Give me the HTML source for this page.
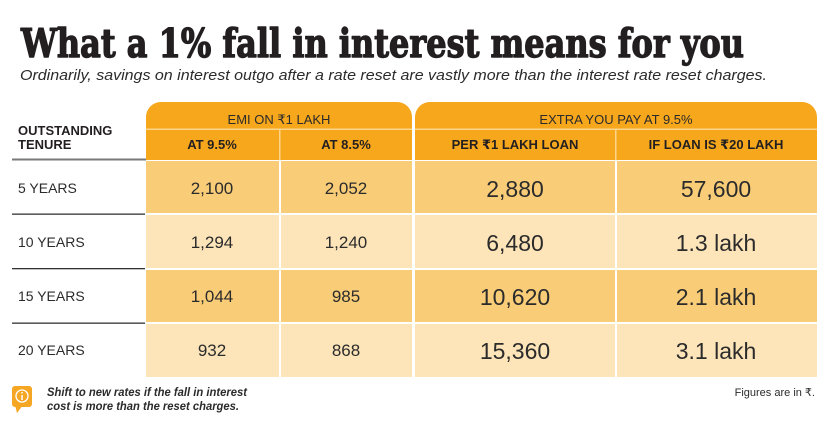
<!DOCTYPE html>
<html><head><meta charset="utf-8"><style>
html,body{margin:0;padding:0;background:#fff;}
svg{display:block;}
text{font-family:"Liberation Sans","DejaVu Sans",sans-serif;fill:#2b2b2b;}
.t{font-family:"DejaVu Serif","Liberation Serif",serif;font-weight:bold;fill:#231f20;stroke:#231f20;stroke-width:1.4;stroke-linejoin:round;}
.h{font-size:13px;}
.b{font-size:13px;font-weight:bold;fill:#231f20;}
.l{font-size:14px;}
.v{font-size:17px;}
.V{font-size:23px;}
</style></head><body>
<svg width="824" height="426" viewBox="0 0 824 426" xmlns="http://www.w3.org/2000/svg">
<rect width="824" height="426" fill="#fff"/>
<text class="t" x="21" y="57" font-size="39" textLength="723" lengthAdjust="spacingAndGlyphs">What a 1% fall in interest means for you</text>
<text x="20" y="80" font-size="15" font-style="italic" fill="#333" textLength="747" lengthAdjust="spacingAndGlyphs">Ordinarily, savings on interest outgo after a rate reset are vastly more than the interest rate reset charges.</text>

<!-- header boxes -->
<path d="M146,160 V117 A15,15 0 0 1 161,102 H397 A15,15 0 0 1 412,117 V160 Z" fill="#F6A71C"/>
<path d="M415,160 V117 A15,15 0 0 1 430,102 H802 A15,15 0 0 1 817,117 V160 Z" fill="#F6A71C"/>
<rect x="146" y="128.5" width="266" height="1.5" fill="#FBD58C"/>
<rect x="415" y="128.5" width="402" height="1.5" fill="#FBD58C"/>
<rect x="279" y="130" width="1.5" height="30" fill="#FBD58C"/>
<rect x="615" y="130" width="1.5" height="30" fill="#FBD58C"/>

<!-- body cells -->
<g fill="#F9CD78">
<rect x="146" y="161" width="133" height="52"/><rect x="281" y="161" width="131" height="52"/><rect x="415" y="161" width="200" height="52"/><rect x="617" y="161" width="200" height="52"/>
<rect x="146" y="270" width="133" height="52"/><rect x="281" y="270" width="131" height="52"/><rect x="415" y="270" width="200" height="52"/><rect x="617" y="270" width="200" height="52"/>
</g>
<g fill="#FDE5B9">
<rect x="146" y="215" width="133" height="53"/><rect x="281" y="215" width="131" height="53"/><rect x="415" y="215" width="200" height="53"/><rect x="617" y="215" width="200" height="53"/>
<rect x="146" y="324" width="133" height="53"/><rect x="281" y="324" width="131" height="53"/><rect x="415" y="324" width="200" height="53"/><rect x="617" y="324" width="200" height="53"/>
</g>

<!-- left column lines -->
<rect x="12" y="158.5" width="134" height="2" fill="#7a7a7a"/>
<rect x="12" y="213.5" width="133" height="1.3" fill="#333"/>
<rect x="12" y="268" width="133" height="1.3" fill="#333"/>
<rect x="12" y="322.5" width="133" height="1.3" fill="#333"/>

<!-- header text -->
<text class="h" x="279" y="124" text-anchor="middle">EMI ON ₹1 LAKH</text>
<text class="h" x="616" y="124" text-anchor="middle">EXTRA YOU PAY AT 9.5%</text>
<text class="b" x="18" y="135">OUTSTANDING</text>
<text class="b" x="18" y="149">TENURE</text>
<text class="b" x="212" y="149" text-anchor="middle">AT 9.5%</text>
<text class="b" x="346" y="149" text-anchor="middle">AT 8.5%</text>
<text class="b" x="515" y="149" text-anchor="middle">PER ₹1 LAKH LOAN</text>
<text class="b" x="716" y="149" text-anchor="middle">IF LOAN IS ₹20 LAKH</text>

<!-- rows -->
<text class="l" x="18" y="193">5 YEARS</text>
<text class="l" x="18" y="247">10 YEARS</text>
<text class="l" x="18" y="301">15 YEARS</text>
<text class="l" x="18" y="355">20 YEARS</text>

<text class="v" x="212" y="194" text-anchor="middle">2,100</text>
<text class="v" x="346" y="194" text-anchor="middle">2,052</text>
<text class="v" x="212" y="248" text-anchor="middle">1,294</text>
<text class="v" x="346" y="248" text-anchor="middle">1,240</text>
<text class="v" x="212" y="302" text-anchor="middle">1,044</text>
<text class="v" x="346" y="302" text-anchor="middle">985</text>
<text class="v" x="212" y="356" text-anchor="middle">932</text>
<text class="v" x="346" y="356" text-anchor="middle">868</text>

<text class="V" x="515" y="197" text-anchor="middle">2,880</text>
<text class="V" x="716" y="197" text-anchor="middle">57,600</text>
<text class="V" x="515" y="251" text-anchor="middle">6,480</text>
<text class="V" x="716" y="251" text-anchor="middle">1.3 lakh</text>
<text class="V" x="515" y="305" text-anchor="middle">10,620</text>
<text class="V" x="716" y="305" text-anchor="middle">2.1 lakh</text>
<text class="V" x="515" y="359" text-anchor="middle">15,360</text>
<text class="V" x="716" y="359" text-anchor="middle">3.1 lakh</text>

<!-- footer -->
<rect x="12" y="386" width="20" height="21" rx="3" fill="#F5A623"/>
<polygon points="15,405 23,405 17,413" fill="#F5A623"/>
<circle cx="22" cy="396" r="6" fill="none" stroke="#fff" stroke-width="1.3"/>
<rect x="21.3" y="395" width="1.5" height="5" fill="#fff"/>
<rect x="21.3" y="392" width="1.5" height="1.5" fill="#fff"/>
<text x="47" y="396" font-size="12" font-style="italic" font-weight="bold" fill="#333" textLength="200" lengthAdjust="spacingAndGlyphs">Shift to new rates if the fall in interest</text>
<text x="47" y="410" font-size="12" font-style="italic" font-weight="bold" fill="#333" textLength="192" lengthAdjust="spacingAndGlyphs">cost is more than the reset charges.</text>
<text x="815" y="396" font-size="11" fill="#333" text-anchor="end">Figures are in ₹.</text>
</svg>
</body></html>
